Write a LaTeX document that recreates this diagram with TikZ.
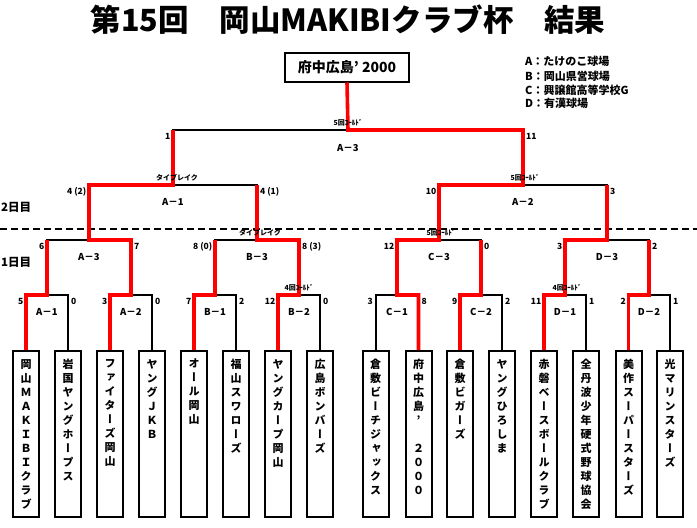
\documentclass[tikz,border=0pt]{standalone}
\usepackage{fontspec}
\setmainfont{Noto Sans CJK JP}
\newfontfamily\jpv{Noto Sans CJK JP}[RawFeature=+vert]
\begin{document}
\begin{tikzpicture}[x=1pt,y=-1pt,
  bk/.style={line width=2pt, black},
  rd/.style={line width=3.6pt, red, line join=miter},
  team/.style={draw, line width=2pt, minimum width=26pt, minimum height=166pt, inner sep=0pt},
  tname/.style={anchor=north, inner sep=0pt, align=center, font=\jpv\bfseries\fontsize{11}{14}\selectfont},
  sc/.style={inner sep=0pt, font=\bfseries\fontsize{8.5}{8.5}\selectfont},
  scl/.style={sc, anchor=east, xshift=-2.5pt, yshift=-6.5pt},
  scr/.style={sc, anchor=west, xshift=3pt, yshift=-6.5pt},
  rl/.style={inner sep=0pt, font=\bfseries\fontsize{9.5}{9.5}\selectfont, yshift=-17pt},
  an/.style={inner sep=0pt, font=\bfseries\fontsize{7}{7}\selectfont, yshift=7pt},
  day/.style={anchor=west, inner sep=0pt, font=\bfseries\fontsize{11.5}{12}\selectfont},
  leg/.style={anchor=west, inner sep=0pt, font=\bfseries\fontsize{11}{11}\selectfont},
  dayline/.style={line width=2pt, dash pattern=on 7pt off 4pt}
]
\fill[white] (0,0) rectangle (697,528);
\useasboundingbox (0,0) rectangle (697,528);

% title
\node[inner sep=0pt, font=\bfseries\fontsize{30.5}{31}\selectfont] (title) at (348,20) {第15回　岡山MAKIBIクラブ杯　結果};

% legend
\node[leg] (lgA) at (525,61) {A：たけのこ球場};
\node[leg] (lgB) at (525,76) {B：岡山県営球場};
\node[leg] (lgC) at (525,90) {C：興譲館高等学校G};
\node[leg] (lgD) at (525,103) {D：有漢球場};

% champion
\node[draw, line width=2pt, minimum width=124pt, minimum height=29pt, inner sep=0pt,
  font=\bfseries\fontsize{14}{14}\selectfont] (champ) at (347,67) {府中広島' 2000};

% day labels and divider
\node[day] (d2) at (1,207) {2日目};
\node[day] (d1) at (1,262) {1日目};
\coordinate (dl) at (0,229);
\coordinate (dr) at (697,229);
\draw[dayline] (dl) -- (dr);

% teams
\foreach \i/\x in {1/26,2/68,3/110,4/152,5/194,6/236,7/278,8/320,
                   9/375.5,10/418.5,11/460,12/502,13/544,14/586,15/628.5,16/670}{
  \node[team] (t\i) at (\x,434) {};
}
\node[tname] (n1) at ([yshift=-9pt]t1.north) {岡\\山\\Ｍ\\Ａ\\Ｋ\\Ｉ\\Ｂ\\Ｉ\\ク\\ラ\\ブ};
\node[tname] (n2) at ([yshift=-9pt]t2.north) {岩\\国\\ヤ\\ン\\グ\\ホ\\ー\\プ\\ス};
\node[tname] (n3) at ([yshift=-9pt]t3.north) {フ\\ァ\\イ\\タ\\ー\\ズ\\岡\\山};
\node[tname] (n4) at ([yshift=-9pt]t4.north) {ヤ\\ン\\グ\\Ｊ\\Ｋ\\Ｂ};
\node[tname] (n5) at ([yshift=-9pt]t5.north) {オ\\ー\\ル\\岡\\山};
\node[tname] (n6) at ([yshift=-9pt]t6.north) {福\\山\\ス\\ワ\\ロ\\ー\\ズ};
\node[tname] (n7) at ([yshift=-9pt]t7.north) {ヤ\\ン\\グ\\カ\\ー\\プ\\岡\\山};
\node[tname] (n8) at ([yshift=-9pt]t8.north) {広\\島\\ボ\\ン\\バ\\ー\\ズ};
\node[tname] (n9) at ([yshift=-9pt]t9.north) {倉\\敷\\ビ\\ー\\チ\\ジ\\ャ\\ッ\\ク\\ス};
\node[tname] (n10) at ([yshift=-9pt]t10.north) {府\\中\\広\\島\\’\\　\\２\\０\\０\\０};
\node[tname] (n11) at ([yshift=-9pt]t11.north) {倉\\敷\\ビ\\ガ\\ー\\ズ};
\node[tname] (n12) at ([yshift=-9pt]t12.north) {ヤ\\ン\\グ\\ひ\\ろ\\し\\ま};
\node[tname] (n13) at ([yshift=-9pt]t13.north) {赤\\磐\\ベ\\ー\\ス\\ボ\\ー\\ル\\ク\\ラ\\ブ};
\node[tname] (n14) at ([yshift=-9pt]t14.north) {全\\丹\\波\\少\\年\\硬\\式\\野\\球\\協\\会};
\node[tname] (n15) at ([yshift=-9pt]t15.north) {美\\作\\ス\\ー\\パ\\ー\\ス\\タ\\ー\\ズ};
\node[tname] (n16) at ([yshift=-9pt]t16.north) {光\\マ\\リ\\ン\\ス\\タ\\ー\\ズ};

% match points
\coordinate (A1) at (47,295);
\coordinate (A2) at (131,295);
\coordinate (B1) at (215,295);
\coordinate (B2) at (299,295);
\coordinate (C1) at (397,295);
\coordinate (C2) at (481,295);
\coordinate (D1) at (565,295);
\coordinate (D2) at (649,295);
\coordinate (A3) at (89,240);
\coordinate (B3) at (257,240);
\coordinate (C3) at (439,240);
\coordinate (D3) at (607,240);
\coordinate (SA1) at (173,185);
\coordinate (SA2) at (523,185);
\coordinate (F) at (348,130);

% black bracket
\draw[bk] (t1.north) |- (A1);  \draw[bk] (t2.north) |- (A1);
\draw[bk] (t3.north) |- (A2);  \draw[bk] (t4.north) |- (A2);
\draw[bk] (t5.north) |- (B1);  \draw[bk] (t6.north) |- (B1);
\draw[bk] (t7.north) |- (B2);  \draw[bk] (t8.north) |- (B2);
\draw[bk] (t9.north) |- (C1);  \draw[bk] (t10.north) |- (C1);
\draw[bk] (t11.north) |- (C2); \draw[bk] (t12.north) |- (C2);
\draw[bk] (t13.north) |- (D1); \draw[bk] (t14.north) |- (D1);
\draw[bk] (t15.north) |- (D2); \draw[bk] (t16.north) |- (D2);
\draw[bk] (A1) |- (A3); \draw[bk] (A2) |- (A3);
\draw[bk] (B1) |- (B3); \draw[bk] (B2) |- (B3);
\draw[bk] (C1) |- (C3); \draw[bk] (C2) |- (C3);
\draw[bk] (D1) |- (D3); \draw[bk] (D2) |- (D3);
\draw[bk] (A3) |- (SA1); \draw[bk] (B3) |- (SA1);
\draw[bk] (C3) |- (SA2); \draw[bk] (D3) |- (SA2);
\draw[bk] (SA1) |- (F); \draw[bk] (SA2) |- (F);

% red winning paths
\draw[rd] (t1.north) |- (A1) -- (A1 |- A3);
\draw[rd] (t3.north) |- (A2) |- (A3) |- (SA1) -- (SA1 |- F);
\draw[rd] (t5.north) |- (B1) -- (B1 |- B3);
\draw[rd] (t7.north) |- (B2) |- (B3) -- (B3 |- SA1);
\draw[rd] (t10.north) |- (C1) |- (C3) |- (SA2) |- (F) -- (champ.south);
\draw[rd] (t11.north) |- (C2) -- (C2 |- C3);
\draw[rd] (t13.north) |- (D1) |- (D3) -- (D3 |- SA2);
\draw[rd] (t15.north) |- (D2) -- (D2 |- D3);

% scores
\node[scl] (sA1l) at (t1.north |- A1) {5};   \node[scr] (sA1r) at (t2.north |- A1) {0};
\node[scl] (sA2l) at (t3.north |- A2) {3};   \node[scr] (sA2r) at (t4.north |- A2) {0};
\node[scl] (sB1l) at (t5.north |- B1) {7};   \node[scr] (sB1r) at (t6.north |- B1) {2};
\node[scl] (sB2l) at (t7.north |- B2) {12};  \node[scr] (sB2r) at (t8.north |- B2) {0};
\node[scl] (sC1l) at (t9.north |- C1) {3};   \node[scr] (sC1r) at (t10.north |- C1) {8};
\node[scl] (sC2l) at (t11.north |- C2) {9};  \node[scr] (sC2r) at (t12.north |- C2) {2};
\node[scl] (sD1l) at (t13.north |- D1) {11}; \node[scr] (sD1r) at (t14.north |- D1) {1};
\node[scl] (sD2l) at (t15.north |- D2) {2};  \node[scr] (sD2r) at (t16.north |- D2) {1};
\node[scl] (sA3l) at (A1 |- A3) {6};         \node[scr] (sA3r) at (A2 |- A3) {7};
\node[scl] (sB3l) at (B1 |- B3) {8 (0)};     \node[scr] (sB3r) at (B2 |- B3) {8 (3)};
\node[scl] (sC3l) at (C1 |- C3) {12};        \node[scr] (sC3r) at (C2 |- C3) {0};
\node[scl] (sD3l) at (D1 |- D3) {3};         \node[scr] (sD3r) at (D2 |- D3) {2};
\node[scl] (sS1l) at (A3 |- SA1) {4 (2)};    \node[scr] (sS1r) at (B3 |- SA1) {4 (1)};
\node[scl] (sS2l) at (C3 |- SA2) {10};       \node[scr] (sS2r) at (D3 |- SA2) {3};
\node[scl] (sFl) at (SA1 |- F) {1};          \node[scr] (sFr) at (SA2 |- F) {11};

% round labels
\node[rl] (rA1) at (A1) {A－1};
\node[rl] (rA2) at (A2) {A－2};
\node[rl] (rB1) at (B1) {B－1};
\node[rl] (rB2) at (B2) {B－2};
\node[rl] (rC1) at (C1) {C－1};
\node[rl] (rC2) at (C2) {C－2};
\node[rl] (rD1) at (D1) {D－1};
\node[rl] (rD2) at (D2) {D－2};
\node[rl] (rA3) at (A3) {A－3};
\node[rl] (rB3) at (B3) {B－3};
\node[rl] (rC3) at (C3) {C－3};
\node[rl] (rD3) at (D3) {D－3};
\node[rl] (rS1) at (SA1) {A－1};
\node[rl] (rS2) at (SA2) {A－2};
\node[rl, yshift=-1pt] (rF) at (F) {A－3};

% annotations
\node[an] (aF) at (F) {5回ｺｰﾙﾄﾞ};
\node[an, xshift=4pt] (aS1) at (SA1) {タイブレイク};
\node[an, xshift=2pt] (aS2) at (SA2) {5回ｺｰﾙﾄﾞ};
\node[an, xshift=3pt] (aB3) at (B3) {タイブレイク};
\node[an, xshift=2pt] (aC3) at (C3) {5回ｺｰﾙﾄﾞ};
\node[an] (aB2) at (B2) {4回ｺｰﾙﾄﾞ};
\node[an, xshift=2pt] (aD1) at (D1) {4回ｺｰﾙﾄﾞ};
\end{tikzpicture}
\end{document}
